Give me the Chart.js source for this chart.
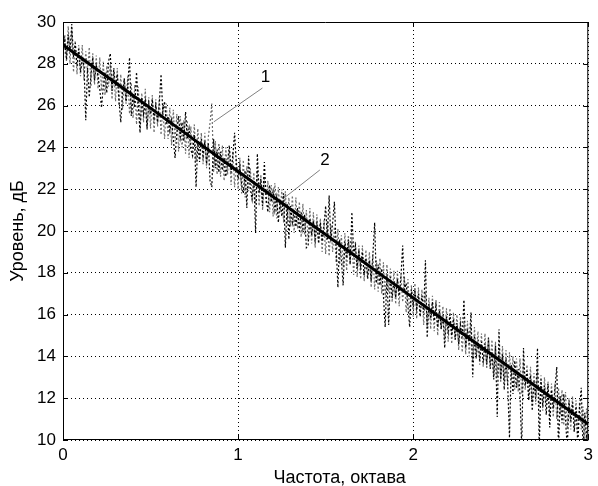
<!DOCTYPE html>
<html>
<head>
<meta charset="utf-8">
<script src="https://cdn.jsdelivr.net/npm/chart.js@4/dist/chart.umd.min.js"></script>
<style>
  html, body { margin: 0; padding: 0; background: #fff; }
  canvas { display: block; }
</style>
</head>
<body>
<canvas id="chart" width="598" height="486"></canvas>
<script>
// frequency grid, octaves
const octave = [
  0, 0.01, 0.02, 0.03, 0.04, 0.05, 0.06, 0.07, 0.08, 0.09,
  0.1, 0.11, 0.12, 0.13, 0.14, 0.15, 0.16, 0.17, 0.18, 0.19,
  0.2, 0.21, 0.22, 0.23, 0.24, 0.25, 0.26, 0.27, 0.28, 0.29,
  0.3, 0.31, 0.32, 0.33, 0.34, 0.35, 0.36, 0.37, 0.38, 0.39,
  0.4, 0.41, 0.42, 0.43, 0.44, 0.45, 0.46, 0.47, 0.48, 0.49,
  0.5, 0.51, 0.52, 0.53, 0.54, 0.55, 0.56, 0.57, 0.58, 0.59,
  0.6, 0.61, 0.62, 0.63, 0.64, 0.65, 0.66, 0.67, 0.68, 0.69,
  0.7, 0.71, 0.72, 0.73, 0.74, 0.75, 0.76, 0.77, 0.78, 0.79,
  0.8, 0.81, 0.82, 0.83, 0.84, 0.85, 0.86, 0.87, 0.88, 0.89,
  0.9, 0.91, 0.92, 0.93, 0.94, 0.95, 0.96, 0.97, 0.98, 0.99,
  1, 1.01, 1.02, 1.03, 1.04, 1.05, 1.06, 1.07, 1.08, 1.09,
  1.1, 1.11, 1.12, 1.13, 1.14, 1.15, 1.16, 1.17, 1.18, 1.19,
  1.2, 1.21, 1.22, 1.23, 1.24, 1.25, 1.26, 1.27, 1.28, 1.29,
  1.3, 1.31, 1.32, 1.33, 1.34, 1.35, 1.36, 1.37, 1.38, 1.39,
  1.4, 1.41, 1.42, 1.43, 1.44, 1.45, 1.46, 1.47, 1.48, 1.49,
  1.5, 1.51, 1.52, 1.53, 1.54, 1.55, 1.56, 1.57, 1.58, 1.59,
  1.6, 1.61, 1.62, 1.63, 1.64, 1.65, 1.66, 1.67, 1.68, 1.69,
  1.7, 1.71, 1.72, 1.73, 1.74, 1.75, 1.76, 1.77, 1.78, 1.79,
  1.8, 1.81, 1.82, 1.83, 1.84, 1.85, 1.86, 1.87, 1.88, 1.89,
  1.9, 1.91, 1.92, 1.93, 1.94, 1.95, 1.96, 1.97, 1.98, 1.99,
  2, 2.01, 2.02, 2.03, 2.04, 2.05, 2.06, 2.07, 2.08, 2.09,
  2.1, 2.11, 2.12, 2.13, 2.14, 2.15, 2.16, 2.17, 2.18, 2.19,
  2.2, 2.21, 2.22, 2.23, 2.24, 2.25, 2.26, 2.27, 2.28, 2.29,
  2.3, 2.31, 2.32, 2.33, 2.34, 2.35, 2.36, 2.37, 2.38, 2.39,
  2.4, 2.41, 2.42, 2.43, 2.44, 2.45, 2.46, 2.47, 2.48, 2.49,
  2.5, 2.51, 2.52, 2.53, 2.54, 2.55, 2.56, 2.57, 2.58, 2.59,
  2.6, 2.61, 2.62, 2.63, 2.64, 2.65, 2.66, 2.67, 2.68, 2.69,
  2.7, 2.71, 2.72, 2.73, 2.74, 2.75, 2.76, 2.77, 2.78, 2.79,
  2.8, 2.81, 2.82, 2.83, 2.84, 2.85, 2.86, 2.87, 2.88, 2.89,
  2.9, 2.91, 2.92, 2.93, 2.94, 2.95, 2.96, 2.97, 2.98, 2.99,
  3
];

// curve 1 - grey dotted
const level1 = [
  27.9, 29.4, 28.1, 29.8, 28.0, 29.6, 27.6, 29.1, 27.5, 28.9,
  27.4, 28.9, 27.2, 28.6, 27.6, 28.8, 26.9, 28.5, 27.0, 28.4,
  26.8, 28.3, 26.7, 28.1, 26.5, 27.9, 26.9, 28.0, 26.3, 27.7,
  26.2, 27.8, 26.0, 27.5, 25.8, 27.3, 26.2, 27.4, 25.6, 27.1,
  25.4, 27.0, 25.1, 26.9, 24.9, 26.6, 25.2, 26.8, 24.8, 26.4,
  24.9, 26.5, 24.7, 26.3, 25.0, 26.4, 24.6, 26.0, 24.4, 26.1,
  24.4, 25.9, 24.1, 25.8, 24.3, 25.6, 23.8, 25.5, 24.0, 25.3,
  23.7, 25.3, 23.5, 25.0, 23.8, 25.1, 23.3, 24.9, 23.4, 24.7,
  23.2, 24.7, 23.0, 24.5, 25.2, 26.1, 22.8, 24.3, 22.7, 24.2,
  22.6, 24.1, 22.4, 24.0, 22.7, 23.9, 22.2, 23.8, 22.1, 23.5,
  22.0, 23.5, 21.8, 23.4, 21.6, 23.1, 21.9, 23.0, 21.5, 22.8,
  21.3, 22.9, 21.2, 22.7, 21.0, 22.6, 21.3, 22.4, 20.9, 22.2,
  20.7, 22.3, 20.6, 22.1, 20.9, 22.0, 20.4, 21.9, 20.3, 21.6,
  20.2, 21.7, 19.9, 21.6, 20.1, 21.4, 19.7, 21.3, 19.8, 21.0,
  19.5, 21.1, 19.4, 20.9, 19.2, 20.8, 19.5, 20.6, 19.0, 20.5,
  18.9, 20.5, 18.8, 20.3, 19.0, 20.2, 18.5, 20.1, 18.4, 19.8,
  18.3, 19.9, 18.1, 19.8, 18.4, 19.6, 17.9, 19.5, 17.8, 19.3,
  17.7, 19.3, 17.6, 19.1, 17.8, 19.0, 17.3, 18.9, 17.2, 18.6,
  17.1, 18.7, 17.0, 18.5, 16.8, 18.4, 17.1, 18.2, 16.6, 18.1,
  16.5, 18.1, 16.4, 17.9, 16.6, 17.8, 16.1, 17.7, 16.0, 17.4,
  15.9, 17.5, 15.8, 17.3, 16.0, 17.2, 15.5, 17.1, 15.4, 16.8,
  15.3, 16.9, 15.2, 16.7, 15.0, 16.6, 15.3, 16.4, 14.8, 16.3,
  14.7, 16.3, 14.6, 16.1, 14.8, 16.0, 14.3, 15.9, 14.2, 15.6,
  14.1, 15.7, 14.0, 15.5, 13.8, 15.4, 14.1, 15.2, 13.6, 15.1,
  13.5, 15.1, 13.4, 14.9, 13.6, 14.8, 13.1, 14.7, 13.0, 14.4,
  12.9, 14.5, 12.8, 14.3, 12.6, 14.2, 12.9, 14.0, 12.4, 13.9,
  12.3, 13.9, 12.2, 13.7, 12.4, 13.6, 11.9, 13.5, 11.8, 13.2,
  11.7, 13.3, 11.6, 13.1, 11.4, 13.0, 11.7, 12.8, 11.2, 12.7,
  11.1, 12.7, 11.0, 12.5, 11.2, 12.4, 10.7, 12.3, 10.6, 12.0,
  10.5, 12.1, 10.4, 11.9, 10.2, 11.8, 10.5, 11.6, 10.0, 11.5,
  10.9
];

// curve 2 - black dotted
const level2 = [
  28.5, 29.1, 28.2, 29.4, 28.6, 29.9, 28.3, 29.0, 27.9, 28.7,
  27.6, 28.2, 27.9, 25.3, 27.8, 26.4, 27.5, 28.3, 27.2, 27.9,
  27.4, 26.8, 25.9, 26.9, 27.6, 26.6, 28.1, 28.5, 26.7, 27.8,
  26.9, 27.5, 26.2, 25.2, 26.6, 27.3, 26.1, 27.0, 28.3, 25.5,
  26.5, 25.9, 27.6, 26.0, 24.7, 26.4, 25.6, 26.2, 24.9, 26.1,
  25.6, 26.3, 25.4, 26.0, 25.2, 26.1, 27.5, 25.7, 26.2, 25.1,
  25.5, 24.8, 25.3, 24.4, 23.5, 24.7, 25.5, 24.5, 25.2, 24.3,
  25.7, 24.4, 24.9, 23.9, 23.6, 24.6, 22.1, 24.2, 23.3, 24.4,
  23.6, 24.3, 23.2, 24.2, 22.4, 22.1, 24.4, 23.0, 23.9, 22.8,
  23.8, 22.9, 23.5, 22.6, 23.3, 24.1, 22.8, 23.6, 24.7, 23.2,
  22.5, 23.1, 22.2, 21.8, 22.9, 21.1, 23.6, 22.0, 21.5, 22.4,
  19.9, 23.7, 21.8, 22.5, 21.2, 23.3, 21.6, 20.9, 22.2, 21.4,
  21.9, 21.0, 21.6, 20.4, 21.5, 20.7, 21.8, 19.2, 21.3, 19.6,
  21.2, 20.4, 21.0, 20.2, 21.1, 20.0, 20.9, 20.1, 20.8, 19.2,
  19.3, 20.6, 19.8, 20.5, 19.6, 20.3, 19.4, 20.4, 19.5, 20.2,
  21.2, 19.6, 21.7, 19.5, 20.4, 21.4, 19.3, 17.3, 19.6, 18.6,
  17.4, 19.5, 18.7, 19.6, 18.4, 20.9, 18.9, 19.3, 18.2, 19.1,
  18.3, 19.0, 17.9, 18.7, 17.7, 18.6, 17.6, 18.9, 20.4, 17.5,
  18.4, 17.4, 18.2, 16.9, 15.4, 17.9, 15.5, 17.8, 16.8, 17.6,
  16.8, 17.7, 16.9, 17.8, 19.3, 17.2, 17.5, 16.4, 15.4, 17.2,
  16.5, 17.2, 16.3, 17.0, 15.9, 16.9, 16.1, 18.6, 14.9, 16.5,
  15.8, 16.6, 15.7, 16.4, 15.4, 16.2, 15.3, 16.0, 14.4, 15.9,
  15.2, 16.0, 15.0, 15.8, 14.8, 15.6, 14.6, 15.5, 14.9, 16.7,
  14.4, 15.3, 14.6, 16.1, 13.0, 15.0, 13.9, 14.8, 13.8, 14.7,
  13.7, 14.6, 13.6, 14.9, 13.4, 14.2, 12.9, 14.5, 11.1, 15.3,
  12.8, 14.1, 12.4, 13.9, 12.6, 10.1, 13.6, 12.2, 13.8, 12.5,
  13.4, 12.2, 9.6, 14.4, 12.6, 13.3, 11.9, 13.1, 11.4, 12.8,
  12.0, 14.4, 9.6, 12.9, 11.6, 12.6, 11.2, 12.7, 10.6, 12.4,
  11.5, 12.5, 13.5, 9.6, 12.1, 10.8, 12.2, 11.0, 9.6, 11.9,
  10.9, 11.8, 10.4, 11.6, 9.8, 11.5, 12.5, 9.6, 11.3, 10.2,
  10.8
];

// smoothed level - solid, every 0.1 octave
const trendOctave = [
  0, 0.1, 0.2, 0.3, 0.4, 0.5, 0.6, 0.7, 0.8, 0.9,
  1, 1.1, 1.2, 1.3, 1.4, 1.5, 1.6, 1.7, 1.8, 1.9,
  2, 2.1, 2.2, 2.3, 2.4, 2.5, 2.6, 2.7, 2.8, 2.9,
  3
];
const trend = [
  28.90, 28.30, 27.69, 27.09, 26.48, 25.88, 25.27, 24.67, 24.06, 23.46,
  22.85, 22.25, 21.64, 21.04, 20.43, 19.83, 19.22, 18.62, 18.01, 17.41,
  16.80, 16.20, 15.59, 14.99, 14.38, 13.78, 13.17, 12.57, 11.96, 11.36,
  10.75
];

// callout labels and their leader lines (data coordinates)
const calloutText = ['1', '2'];
const calloutTextX = [1.156, 1.496];
const calloutTextY = [27.35, 23.4];
const leader1X = [0.861, 1.139];
const leader1Y = [25.22, 26.84];
const leader2X = [1.263, 1.467];
const leader2Y = [21.58, 22.92];

const xTitle = 'Частота, октава';
const yTitle = 'Уровень, дБ';

const FONT = 'Arial, "Liberation Sans", sans-serif';

function pts(xs, ys) {
  return xs.map((x, i) => ({ x: x, y: ys[i] }));
}

// frame, inside tick marks, callout numbers and x title
const framePlugin = {
  id: 'frame',
  afterDraw(chart) {
    const ctx = chart.ctx;
    const a = chart.chartArea;
    const xs = chart.scales.x;
    const ys = chart.scales.y;
    ctx.save();
    ctx.strokeStyle = '#000';
    ctx.lineWidth = 1;
    ctx.beginPath();
    ctx.rect(a.left + 0.5, a.top + 0.5, a.right - a.left - 1, a.bottom - a.top - 1);
    ctx.stroke();
    ctx.beginPath();
    xs.ticks.forEach(t => {
      const px = Math.round(xs.getPixelForValue(t.value)) + 0.5;
      ctx.moveTo(px, a.bottom); ctx.lineTo(px, a.bottom - 5);
      ctx.moveTo(px, a.top); ctx.lineTo(px, a.top + 5);
    });
    ys.ticks.forEach(t => {
      const py = Math.round(ys.getPixelForValue(t.value)) + 0.5;
      ctx.moveTo(a.left, py); ctx.lineTo(a.left + 5, py);
      ctx.moveTo(a.right, py); ctx.lineTo(a.right - 5, py);
    });
    ctx.stroke();

    ctx.fillStyle = '#000';
    ctx.font = '17px ' + FONT;
    ctx.textAlign = 'center';
    ctx.textBaseline = 'middle';
    calloutText.forEach((s, i) => {
      ctx.fillText(s, xs.getPixelForValue(calloutTextX[i]), ys.getPixelForValue(calloutTextY[i]));
    });

    // MATLAB puts the x label a bit right of centre here
    ctx.font = '18px ' + FONT;
    ctx.fillText(xTitle, (a.left + a.right) / 2 + 14, a.bottom + 38);
    ctx.restore();
  }
};

new Chart(document.getElementById('chart'), {
  type: 'line',
  data: {
    datasets: [
      {
        label: 'trend',
        data: pts(trendOctave, trend),
        borderColor: '#000',
        borderWidth: 3,
        pointRadius: 0,
        tension: 0
      },
      {
        label: '2',
        data: pts(octave, level2),
        borderColor: '#000',
        borderWidth: 1.2,
        borderDash: [2, 2],
        pointRadius: 0,
        tension: 0
      },
      {
        label: '1',
        data: pts(octave, level1),
        borderColor: '#6e6e6e',
        borderWidth: 1.2,
        borderDash: [2, 2],
        pointRadius: 0,
        tension: 0
      },
      {
        label: 'leader1',
        data: pts(leader1X, leader1Y),
        borderColor: '#808080',
        borderWidth: 1,
        pointRadius: 0
      },
      {
        label: 'leader2',
        data: pts(leader2X, leader2Y),
        borderColor: '#808080',
        borderWidth: 1,
        pointRadius: 0
      }
    ]
  },
  options: {
    responsive: false,
    animation: false,
    devicePixelRatio: 1,
    layout: { padding: { top: 22, right: 6, left: 0, bottom: 0 } },
    plugins: {
      legend: { display: false },
      tooltip: { enabled: false }
    },
    scales: {
      x: {
        type: 'linear',
        min: 0,
        max: 3,
        afterFit: s => { s.height = 46; },
        ticks: {
          stepSize: 1,
          color: '#000',
          padding: 5,
          font: { family: FONT, size: 17 }
        },
        grid: { color: '#000', lineWidth: 1, drawTicks: false },
        border: { display: false, dash: [1, 3] }
      },
      y: {
        type: 'linear',
        min: 10,
        max: 30,
        afterFit: s => { s.width = 63; },
        ticks: {
          stepSize: 2,
          color: '#000',
          padding: 7,
          font: { family: FONT, size: 17 }
        },
        grid: { color: '#000', lineWidth: 1, drawTicks: false },
        border: { display: false, dash: [1, 3] },
        title: {
          display: true,
          text: yTitle,
          color: '#000',
          font: { family: FONT, size: 18 },
          padding: { top: 7, bottom: 0 }
        }
      }
    }
  },
  plugins: [framePlugin]
});
</script>
</body>
</html>
